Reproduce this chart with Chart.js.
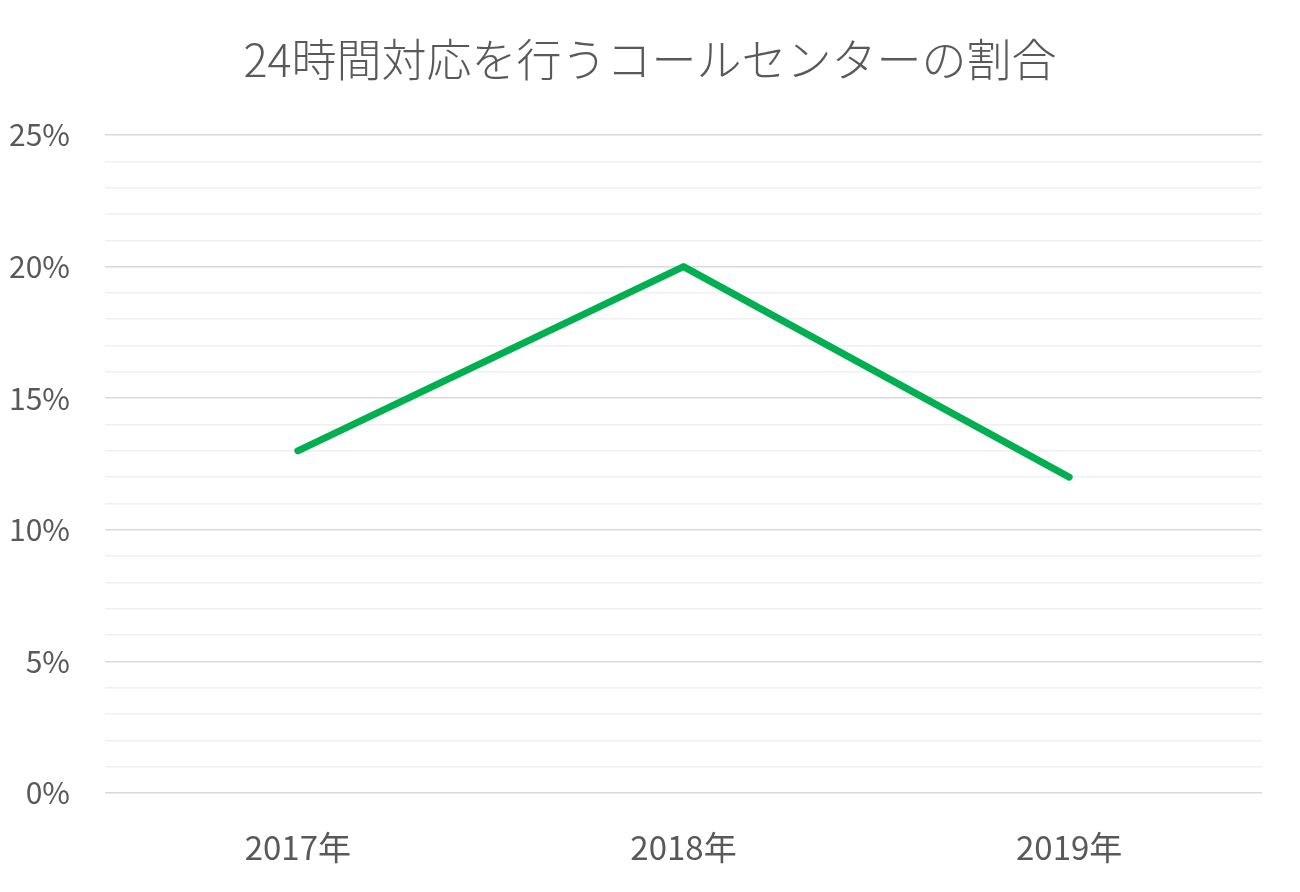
<!DOCTYPE html>
<html>
<head>
<meta charset="utf-8">
<script src="https://cdn.jsdelivr.net/npm/chart.js@4/dist/chart.umd.min.js"></script>
<style>
html,body{margin:0;padding:0;background:#fff;}
#wrap{width:1300px;height:892px;}
</style>
</head>
<body>
<div id="wrap"><canvas id="c" width="1300" height="892"></canvas></div>
<script>
const chartTitle = '24時間対応を行うコールセンターの割合';
const categories = ['2017年', '2018年', '2019年'];
const shareValues = [13, 20, 12];
const yMax = 25;
const yMajorStep = 5;

const FONT = "'Noto Sans CJK JP', 'Open Sans', sans-serif";

new Chart(document.getElementById('c'), {
  type: 'line',
  data: {
    labels: categories,
    datasets: [{
      data: shareValues,
      yAxisID: 'y',
      borderColor: '#00b050',
      backgroundColor: '#00b050',
      borderWidth: 7,
      borderCapStyle: 'round',
      borderJoinStyle: 'round',
      pointRadius: 0,
      tension: 0,
      fill: false
    }]
  },
  options: {
    responsive: false,
    animation: false,
    devicePixelRatio: 1,
    layout: { padding: 0 },
    plugins: {
      legend: { display: false },
      tooltip: { enabled: false },
      title: {
        display: true,
        text: chartTitle,
        color: '#595959',
        font: { family: FONT, size: 45, weight: 300, lineHeight: 1.2 },
        padding: { top: 33, bottom: 48 }
      }
    },
    scales: {
      x: {
        offset: true,
        grid: { display: false, drawTicks: false },
        border: { display: false },
        ticks: {
          color: '#595959',
          font: { family: FONT, size: 33 },
          padding: 35,
          maxRotation: 0
        },
        afterFit: s => { s.height = 99; }
      },
      y: {
        position: 'left',
        min: 0,
        max: yMax,
        grid: {
          drawTicks: false,
          lineWidth: 1.5,
          color: ctx => (ctx.tick && ctx.tick.value % yMajorStep === 0) ? '#d9d9d9' : '#f0f0f0'
        },
        border: { display: false },
        ticks: {
          stepSize: 1,
          autoSkip: false,
          color: '#595959',
          font: { family: FONT, size: 30 },
          padding: 35,
          callback: v => (v % yMajorStep === 0) ? v + '%' : ''
        },
        afterFit: s => { s.width = 105; }
      },
      yRightSpacer: {
        position: 'right',
        display: true,
        grid: { display: false, drawTicks: false },
        border: { display: false },
        ticks: { display: false },
        afterFit: s => { s.width = 38; }
      }
    }
  }
});
</script>
</body>
</html>
